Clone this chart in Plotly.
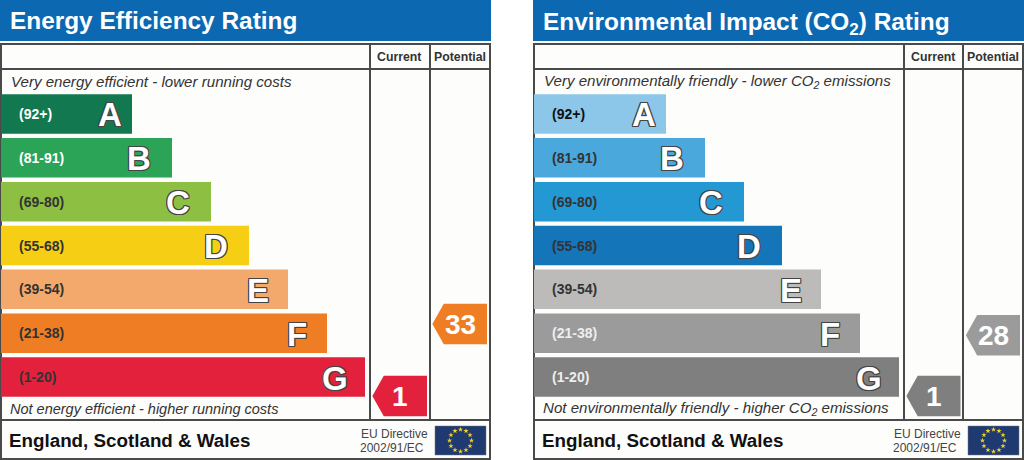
import math
import plotly.graph_objects as go

W = 1024
H = 460

bands = ["A", "B", "C", "D", "E", "F", "G"]
ranges = ["(92+)", "(81-91)", "(69-80)", "(55-68)", "(39-54)", "(21-38)", "(1-20)"]

energy_lengths = [131, 171, 210, 248, 287, 326, 364]
energy_colors = ["#12784f", "#2ba458", "#8dbf43", "#f6cf15", "#f3a96c", "#ee7d23", "#e3213c"]
energy_range_colors = ["#ffffff", "#ffffff", "#333333", "#333333", "#333333", "#333333", "#333333"]

co2_lengths = [132, 171, 210, 248, 287, 326, 365]
co2_colors = ["#8cc6e8", "#4aa8dc", "#2498d2", "#1575b9", "#bcbbb9", "#9b9b9b", "#7f7f7f"]
co2_range_colors = ["#111111", "#333333", "#333333", "#333333", "#333333", "#eeeeee", "#eeeeee"]

columns = ["Current", "Potential"]
energy_scores = [1, 33]
energy_score_colors = ["#e3213c", "#ee7d23"]
co2_scores = [1, 28]
co2_score_colors = ["#7f7f7f", "#9b9b9b"]

LINE = "#4a4a4a"
BLUE = "#0b68b1"
FONT = "Liberation Sans"
OUTLINE = "1px 0 0 #444,-1px 0 0 #444,0 1px 0 #444,0 -1px 0 #444,1px 1px 0 #444,-1px -1px 0 #444,1px -1px 0 #444,-1px 1px 0 #444"


def px(x):
    return x / W


def py(y):
    return 1 - y / H


def hline(x0, x1, y):
    return dict(type="line", xref="paper", yref="paper", x0=px(x0), x1=px(x1), y0=py(y), y1=py(y),
                line=dict(color=LINE, width=2))


def vline(x, y0, y1):
    return dict(type="line", xref="paper", yref="paper", x0=px(x), x1=px(x), y0=py(y0), y1=py(y1),
                line=dict(color=LINE, width=2))


def label(x, y, text, size, color="#333333", anchor="left", bold=False, italic=False, font=FONT):
    return dict(xref="paper", yref="paper", x=px(x), y=py(y), text=f"<b>{text}</b>" if bold else text,
                showarrow=False, xanchor=anchor, yanchor="middle", align=anchor, borderpad=0, borderwidth=0,
                font=dict(family=font, size=size, color=color, style="italic" if italic else "normal"))


fig = go.Figure()
shapes = []
annotations = []


def add_panel(n, left, col1, col2, right, title, title_y, top_text, bottom_text, bottom_size, lengths, colors,
              range_colors, scores, score_colors):
    xa = "x" if n == 0 else f"x{n * 2 + 1}"
    ya = "y" if n == 0 else f"y{n * 2 + 1}"
    xb = f"x{n * 2 + 2}"
    yb = f"y{n * 2 + 2}"

    shapes.append(dict(type="rect", xref="paper", yref="paper", x0=px(left - 1), x1=px(right + 1), y0=py(0), y1=py(41),
                       fillcolor=BLUE, line=dict(width=0), layer="below"))
    shapes.append(dict(type="rect", xref="paper", yref="paper", x0=px(left), x1=px(right), y0=py(44), y1=py(459),
                       fillcolor="#fdfdfb", line=dict(color=LINE, width=2), layer="below"))
    shapes.append(hline(left, right, 69))
    shapes.append(hline(left, right, 420))
    shapes.append(vline(col1, 44, 420))
    shapes.append(vline(col2, 44, 420))

    annotations.append(label(left + 9, title_y, title, 24.4, "#ffffff", bold=True))
    annotations.append(label(left + 10, 82, top_text, 15.1, italic=True))
    annotations.append(label(left + 9, 408.5, bottom_text, bottom_size, italic=True))
    annotations.append(label(left + 7.5, 440, "England, Scotland &amp; Wales", 18.8, "#111111", bold=True))
    annotations.append(label(col1 + 29, 57, columns[0], 12.3, bold=True, anchor="center"))
    annotations.append(label(col2 + 30, 57, columns[1], 12.3, bold=True, anchor="center"))
    annotations.append(label(right - 62, 434, "EU Directive", 12, "#444444", anchor="right"))
    annotations.append(label(right - 66, 448, "2002/91/EC", 12, "#444444", anchor="right"))

    # the rating bars, one row per band
    fig.add_trace(go.Bar(y=bands, x=lengths, orientation="h", marker=dict(color=colors, line=dict(width=0)),
                         width=0.9, xaxis=xa, yaxis=ya, showlegend=False, hoverinfo="skip"))
    for band, rng, length, c in zip(bands, ranges, lengths, range_colors):
        inset = 22 if band == "A" else (33 if band in "BCD" else 30)
        annotations.append(dict(xref=xa, yref=ya, x=16, y=band, text=f"<b>{rng}</b>", showarrow=False,
                                xanchor="left", font=dict(family=FONT, size=14, color=c)))
        annotations.append(dict(xref=xa, yref=ya, x=length - inset, y=band, text=f"<b>{band}</b>", showarrow=False,
                                xanchor="center", yshift=-1,
                                font=dict(family=FONT, size=33, color="#ffffff", shadow=OUTLINE)))

    # score tags, height on the page comes from the score axis
    for i, (score, c) in enumerate(zip(scores, score_colors)):
        fig.add_trace(go.Scatter(x=[i - 0.46, i - 0.27, i + 0.45, i + 0.45, i - 0.27, i - 0.46],
                                 y=[score, score + 9, score + 9, score - 9, score - 9, score],
                                 mode="lines", fill="toself", fillcolor=c, line=dict(width=0),
                                 xaxis=xb, yaxis=yb, showlegend=False, hoverinfo="skip"))
        annotations.append(dict(xref=xb, yref=yb, x=i, y=score, text=f"<b>{score}</b>", showarrow=False,
                                font=dict(family=FONT, size=28, color="#ffffff")))

    # flag
    fx0 = right - 55
    fx1 = right - 4
    shapes.append(dict(type="rect", xref="paper", yref="paper", x0=px(fx0), x1=px(fx1), y0=py(426), y1=py(455),
                       fillcolor="#1f3a70", line=dict(width=0.5, color="#777777"), layer="below"))
    cx = (fx0 + fx1) / 2
    angles = [math.radians(a) for a in range(0, 360, 30)]
    fig.add_trace(go.Scatter(x=[cx + 11 * math.cos(a) for a in angles], y=[440.5 + 11 * math.sin(a) for a in angles],
                             mode="markers", marker=dict(symbol="star", size=4, color="#f5d327"),
                             xaxis="x5", yaxis="y5", showlegend=False, hoverinfo="skip"))


add_panel(0, 1, 370, 430, 490, "Energy Efficiency Rating", 21,
          "Very energy efficient - lower running costs", "Not energy efficient - higher running costs", 14.5,
          energy_lengths, energy_colors, energy_range_colors, energy_scores, energy_score_colors)
add_panel(1, 534, 904, 963, 1023, "Environmental Impact (CO<sub>2</sub>) Rating", 23,
          "Very environmentally friendly - lower CO<sub>2</sub> emissions",
          "Not environmentally friendly - higher CO<sub>2</sub> emissions", 15.1,
          co2_lengths, co2_colors, co2_range_colors, co2_scores, co2_score_colors)

hidden = dict(visible=False, fixedrange=True)
rows = dict(hidden, type="category", categoryorder="array", categoryarray=bands, autorange=False, range=[6.5, -0.5],
            domain=[py(399), py(92)])
# score axis runs 2.25px per point, zero just above the bottom band edge
score_axis = dict(hidden, range=[-20, 100], domain=[py(443.25), py(173.25)])

fig.update_layout(
    width=W,
    height=H,
    autosize=False,
    margin=dict(l=0, r=0, t=0, b=0),
    paper_bgcolor="#ffffff",
    plot_bgcolor="rgba(0,0,0,0)",
    barmode="overlay",
    shapes=shapes,
    annotations=annotations,
    xaxis=dict(hidden, range=[0, 369], domain=[px(1), px(370)]),
    yaxis=rows,
    xaxis2=dict(hidden, range=[-0.5, 1.5], domain=[px(370), px(490)]),
    yaxis2=score_axis,
    xaxis3=dict(hidden, range=[0, 369], domain=[px(534), px(903)]),
    yaxis3=rows,
    xaxis4=dict(hidden, range=[-0.5, 1.5], domain=[px(904), px(1023)]),
    yaxis4=score_axis,
    xaxis5=dict(hidden, range=[0, W], domain=[0, 1]),
    yaxis5=dict(hidden, range=[H, 0], domain=[0, 1]),
)

# the browser's default body margin would push the chart 8px in
fig.write_html("out.html", config=dict(displayModeBar=False),
               post_script="document.body.style.margin='0';document.body.style.overflow='hidden';")
